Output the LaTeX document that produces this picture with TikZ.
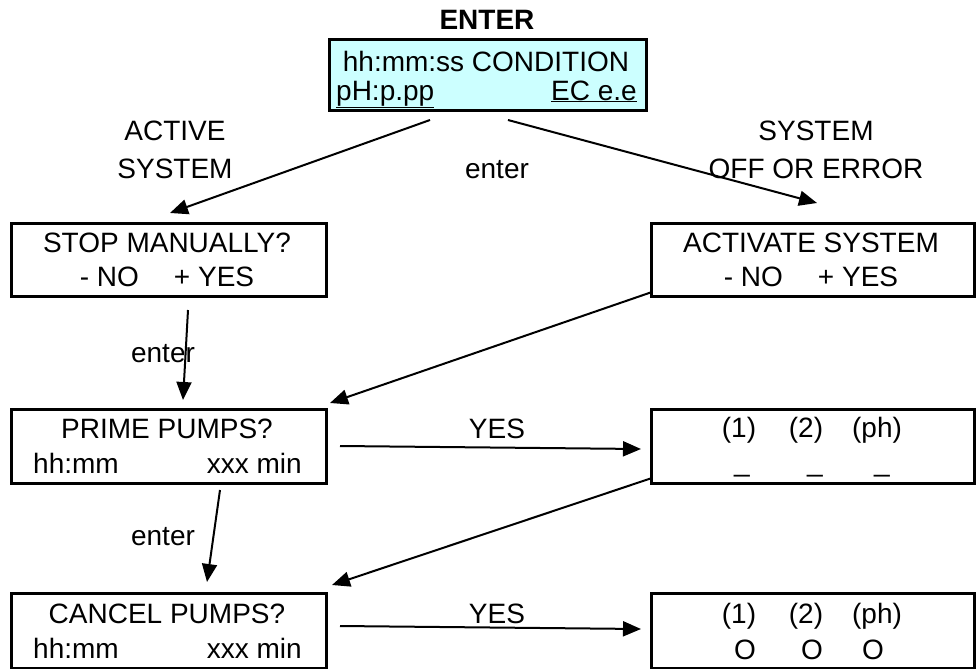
\documentclass[tikz,border=0pt]{standalone}
\usepackage{fontspec}
\setmainfont{Liberation Sans}
\usetikzlibrary{arrows.meta}
\definecolor{lcd}{HTML}{CCFFFF}
\tikzset{
  box/.style={draw, line width=3pt, inner sep=0pt, anchor=north west},
  txt/.style={inner sep=0pt, anchor=base, font=\fontsize{28}{32}\selectfont},
  ltxt/.style={txt, anchor=base west},
  rtxt/.style={txt, anchor=base east},
  arr/.style={line width=2pt, -{Triangle[length=18pt,width=15pt]}},
}
\begin{document}
\begin{tikzpicture}[x=1pt,y=-1pt]
\useasboundingbox (0,0) rectangle (977,669);
% top box
\node[txt, font=\fontsize{28}{32}\selectfont\bfseries] (enterT) at (487,30) {ENTER};
\node[box, fill=lcd, minimum width=317pt, minimum height=71pt] (top) at (328,38) {};
\node[txt] (topA) at (486,72) {hh:mm:ss CONDITION};
\node[ltxt] (topB) at (336,100) {\underline{pH:p.pp}};
\node[rtxt] (topC) at (637,100) {\underline{EC e.e}};
% labels between
\node[txt] (lab1) at (175,140) {ACTIVE};
\node[txt] (lab2) at (175,178) {SYSTEM};
\node[txt] (lab3) at (497,178) {enter};
\node[txt] (lab4) at (816,140) {SYSTEM};
\node[txt] (lab5) at (816,178) {OFF OR ERROR};
% row 1
\node[box, minimum width=315pt, minimum height=73pt] (stop) at (10,222) {};
\node[txt] (stopA) at (167,252) {STOP MANUALLY?};
\node[txt] (stopB) at (167,286) {- NO\hspace{1.25em}+ YES};
\node[box, minimum width=323pt, minimum height=73pt] (act) at (650,222) {};
\node[txt] (actA) at (811,252) {ACTIVATE SYSTEM};
\node[txt] (actB) at (811,286) {- NO\hspace{1.25em}+ YES};
% row 2
\node[box, minimum width=315pt, minimum height=74pt] (prime) at (10,408) {};
\node[txt] (primeA) at (167,438) {PRIME PUMPS?};
\node[ltxt] (primeB) at (33,473) {hh:mm};
\node[rtxt] (primeC) at (302,473) {xxx min};
\node[box, minimum width=323pt, minimum height=74pt] (sel) at (650,408) {};
\node[txt] (selA) at (739,437) {(1)};
\node[txt] (selB) at (806,437) {(2)};
\node[txt] (selC) at (877,437) {(ph)};
\node[txt] (selD) at (742,471) {\_};
\node[txt] (selE) at (815,471) {\_};
\node[txt] (selF) at (882,471) {\_};
\node[txt] (yes1) at (497,438) {YES};
% row 3
\node[box, minimum width=315pt, minimum height=75pt] (cancel) at (10,592) {};
\node[txt] (cancelA) at (167,623) {CANCEL PUMPS?};
\node[ltxt] (cancelB) at (33,658) {hh:mm};
\node[rtxt] (cancelC) at (302,658) {xxx min};
\node[box, minimum width=323pt, minimum height=75pt] (run) at (650,592) {};
\node[txt] (runA) at (739,623) {(1)};
\node[txt] (runB) at (806,623) {(2)};
\node[txt] (runC) at (877,623) {(ph)};
\node[txt] (runD) at (745,659) {O};
\node[txt] (runE) at (812,659) {O};
\node[txt] (runF) at (873,659) {O};
\node[txt] (yes2) at (497,623) {YES};
% enter labels on left
\node[txt] (ent1) at (163,362) {enter};
\node[txt] (ent2) at (163,545) {enter};
% connector coordinates
\coordinate (c1s) at (430,120);
\coordinate (c1e) at (170,213);
\coordinate (c2s) at (508,120);
\coordinate (c2e) at (817,203);
\coordinate (c3s) at (188,310);
\coordinate (c3e) at (183,400);
\coordinate (c4s) at (652,292);
\coordinate (c4e) at (330,403);
\coordinate (c5s) at (340,446);
\coordinate (c5e) at (641,449);
\coordinate (c6s) at (220,490);
\coordinate (c6e) at (207,582);
\coordinate (c7s) at (652,478);
\coordinate (c7e) at (332,585);
\coordinate (c8s) at (340,626);
\coordinate (c8e) at (641,629);
\draw[arr] (c1s) -- (c1e);
\draw[arr] (c2s) -- (c2e);
\draw[arr] (c3s) -- (c3e);
\draw[arr] (c4s) -- (c4e);
\draw[arr] (c5s) -- (c5e);
\draw[arr] (c6s) -- (c6e);
\draw[arr] (c7s) -- (c7e);
\draw[arr] (c8s) -- (c8e);
\end{tikzpicture}
\end{document}
